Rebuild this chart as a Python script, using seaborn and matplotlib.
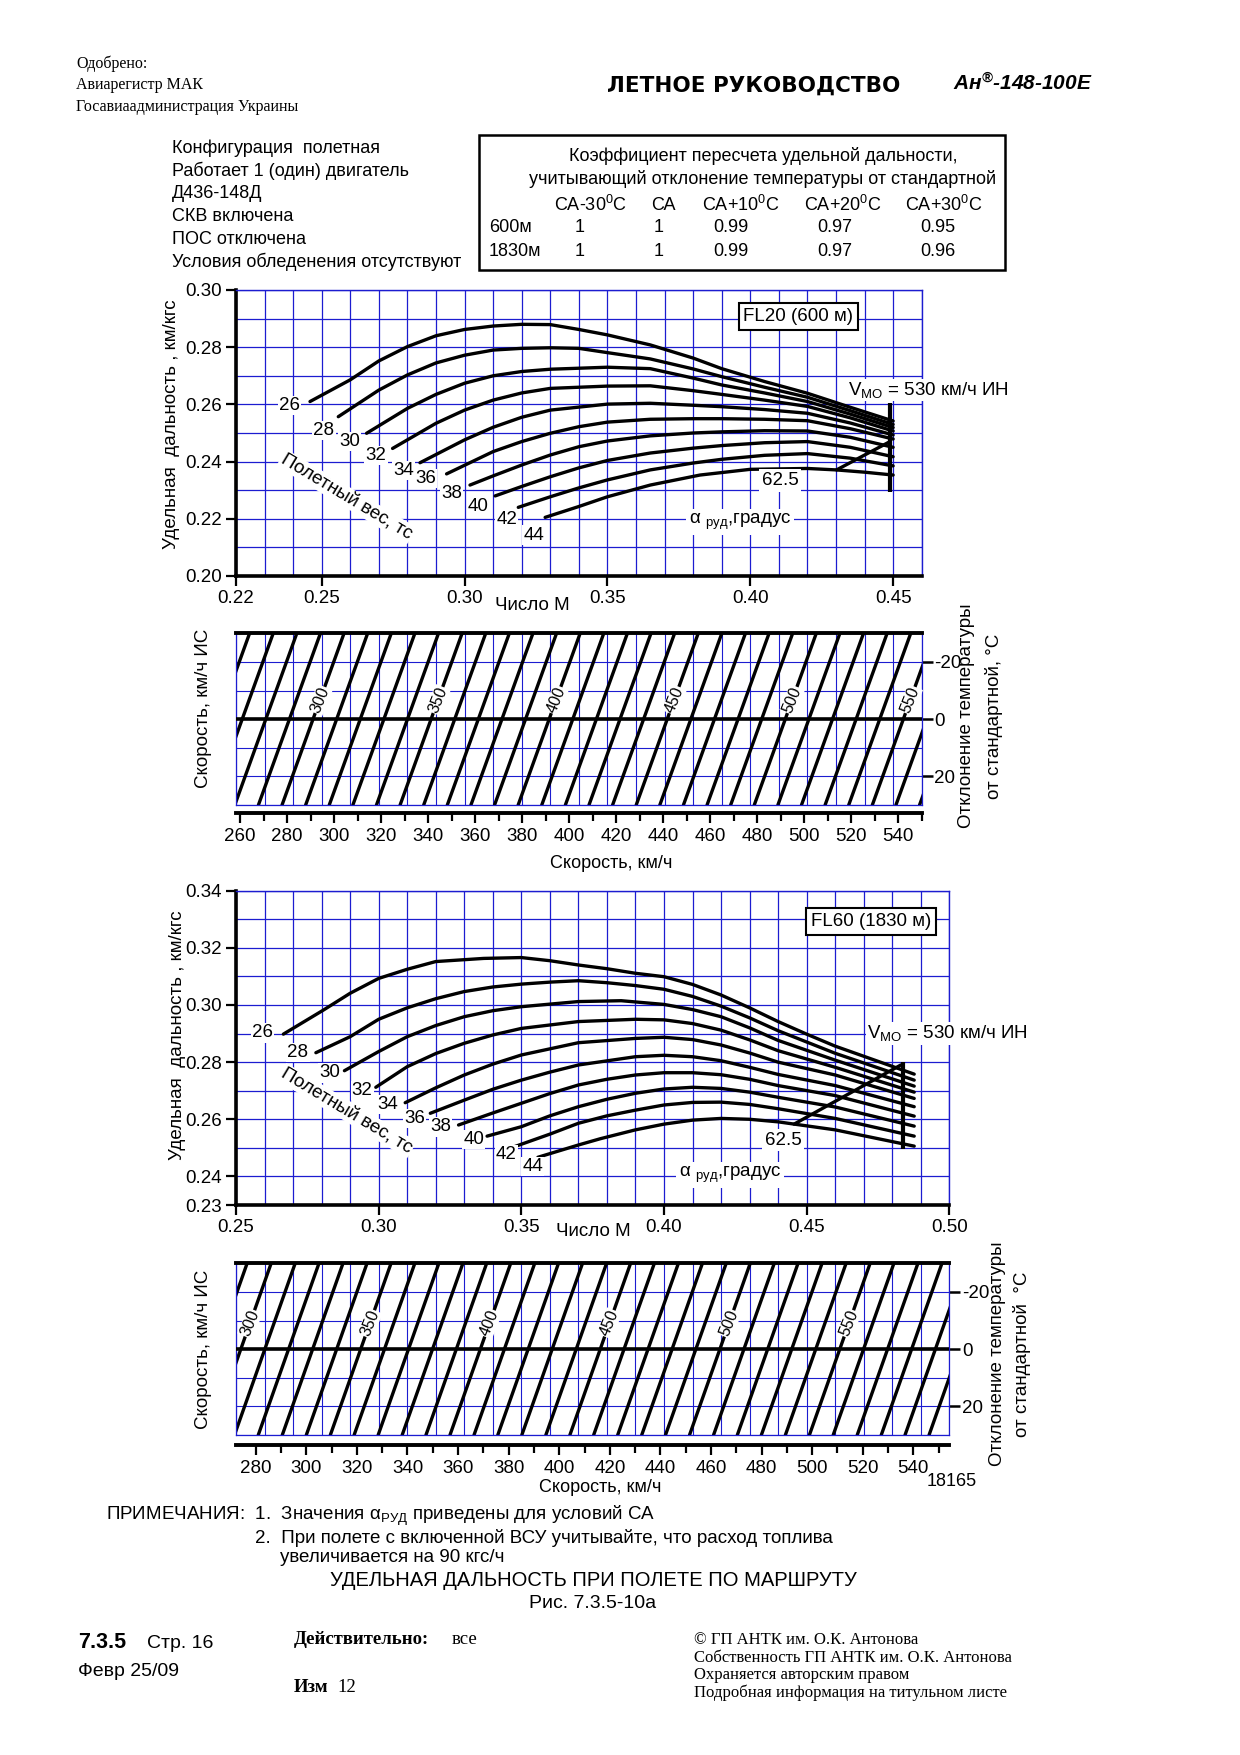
import numpy as np
import pandas as pd
import matplotlib
matplotlib.use("Agg")
import matplotlib.pyplot as plt
from matplotlib.patches import Rectangle
import seaborn as sns

# ---------------- DATA ----------------
WEIGHTS = [26, 28, 30, 32, 34, 36, 38, 40, 42, 44]

# FL20 (600 m): Mach number / specific range (km/kgf)
FL20_M26 = [0.2459, 0.26, 0.27, 0.28, 0.29, 0.30, 0.31, 0.32, 0.33, 0.34, 0.35, 0.365, 0.38, 0.39, 0.405, 0.42, 0.435, 0.45]
FL20_R26 = [0.2610, 0.2686, 0.2752, 0.2802, 0.2840, 0.2862, 0.2874, 0.2880, 0.2879, 0.2862, 0.2843, 0.2808, 0.2762, 0.2725, 0.2680, 0.2639, 0.2590, 0.2542]
FL20_M28 = [0.2558, 0.27, 0.28, 0.29, 0.30, 0.31, 0.32, 0.33, 0.34, 0.35, 0.365, 0.38, 0.39, 0.405, 0.42, 0.435, 0.45]
FL20_R28 = [0.2557, 0.2650, 0.2703, 0.2745, 0.2772, 0.2790, 0.2796, 0.2798, 0.2796, 0.2781, 0.2759, 0.2724, 0.2697, 0.2660, 0.2625, 0.2578, 0.2530]
FL20_M30 = [0.2657, 0.28, 0.29, 0.30, 0.31, 0.32, 0.33, 0.35, 0.365, 0.38, 0.39, 0.405, 0.42, 0.435, 0.45]
FL20_R30 = [0.2499, 0.2586, 0.2635, 0.2674, 0.2700, 0.2715, 0.2723, 0.2730, 0.2725, 0.2692, 0.2668, 0.2640, 0.2610, 0.2566, 0.2519]
FL20_M32 = [0.2748, 0.29, 0.30, 0.31, 0.32, 0.33, 0.35, 0.365, 0.38, 0.39, 0.405, 0.42, 0.435, 0.45]
FL20_R32 = [0.2446, 0.2534, 0.2580, 0.2615, 0.2640, 0.2656, 0.2664, 0.2665, 0.2648, 0.2635, 0.2615, 0.2593, 0.2553, 0.2507]
FL20_M34 = [0.2844, 0.30, 0.31, 0.32, 0.33, 0.35, 0.365, 0.38, 0.39, 0.405, 0.42, 0.435, 0.45]
FL20_R34 = [0.2396, 0.2476, 0.2520, 0.2555, 0.2580, 0.2601, 0.2604, 0.2597, 0.2592, 0.2582, 0.2569, 0.2535, 0.2493]
FL20_M36 = [0.2937, 0.31, 0.32, 0.33, 0.34, 0.35, 0.365, 0.38, 0.39, 0.405, 0.42, 0.435, 0.45]
FL20_R36 = [0.2357, 0.2435, 0.2470, 0.2499, 0.2522, 0.2538, 0.2548, 0.2550, 0.2550, 0.2548, 0.2543, 0.2515, 0.2479]
FL20_M38 = [0.3019, 0.31, 0.32, 0.33, 0.34, 0.35, 0.365, 0.38, 0.39, 0.405, 0.42, 0.435, 0.45]
FL20_R38 = [0.2318, 0.2350, 0.2388, 0.2423, 0.2452, 0.2472, 0.2490, 0.2500, 0.2504, 0.2508, 0.2507, 0.2485, 0.2450]
FL20_M40 = [0.3107, 0.32, 0.33, 0.34, 0.35, 0.365, 0.38, 0.39, 0.405, 0.42, 0.435, 0.45]
FL20_R40 = [0.2280, 0.2313, 0.2347, 0.2378, 0.2404, 0.2430, 0.2447, 0.2456, 0.2466, 0.2470, 0.2450, 0.2417]
FL20_M42 = [0.3188, 0.33, 0.34, 0.35, 0.365, 0.38, 0.39, 0.405, 0.42, 0.435, 0.45]
FL20_R42 = [0.2240, 0.2277, 0.2308, 0.2336, 0.2371, 0.2395, 0.2408, 0.2422, 0.2428, 0.2412, 0.2385]
FL20_M44 = [0.3282, 0.34, 0.35, 0.365, 0.3824, 0.40, 0.42, 0.43, 0.44, 0.45]
FL20_R44 = [0.2205, 0.2243, 0.2277, 0.2318, 0.2353, 0.2373, 0.2376, 0.2371, 0.2363, 0.2353]
FL20_LABEL_M = [0.2387, 0.2508, 0.2597, 0.2690, 0.2788, 0.2863, 0.2955, 0.3048, 0.3147, 0.3243]
FL20_LABEL_R = [0.2595, 0.2510, 0.2470, 0.2421, 0.2368, 0.2342, 0.2287, 0.2242, 0.2196, 0.2143]
FL20_VMO_M = [0.4488, 0.4488]
FL20_VMO_R = [0.2295, 0.2604]
FL20_A625_M = [0.4302, 0.4489]
FL20_A625_R = [0.2371, 0.2470]

# FL60 (1830 m)
FL60_M26 = [0.2666, 0.2806, 0.29, 0.30, 0.31, 0.32, 0.3368, 0.35, 0.36, 0.37, 0.38, 0.39, 0.40, 0.41, 0.42, 0.43, 0.44, 0.45, 0.46, 0.4877]
FL60_R26 = [0.2898, 0.2982, 0.3041, 0.3093, 0.3125, 0.3152, 0.3163, 0.3166, 0.3155, 0.3140, 0.3127, 0.3111, 0.3099, 0.3072, 0.3035, 0.2990, 0.2942, 0.2898, 0.2856, 0.2758]
FL60_M28 = [0.2780, 0.29, 0.30, 0.31, 0.32, 0.33, 0.34, 0.35, 0.36, 0.37, 0.38, 0.39, 0.40, 0.41, 0.42, 0.43, 0.44, 0.46, 0.4877]
FL60_R28 = [0.2833, 0.2889, 0.2950, 0.2990, 0.3022, 0.3047, 0.3063, 0.3073, 0.3080, 0.3085, 0.3078, 0.3068, 0.3055, 0.3030, 0.2996, 0.2955, 0.2910, 0.2831, 0.2737]
FL60_M30 = [0.2880, 0.30, 0.31, 0.32, 0.33, 0.34, 0.35, 0.37, 0.385, 0.40, 0.41, 0.42, 0.43, 0.44, 0.46, 0.4877]
FL60_R30 = [0.2770, 0.2837, 0.2889, 0.2928, 0.2959, 0.2980, 0.2994, 0.3012, 0.3015, 0.3002, 0.2984, 0.2959, 0.2920, 0.2876, 0.2807, 0.2716]
FL60_M32 = [0.2990, 0.31, 0.32, 0.33, 0.34, 0.35, 0.37, 0.39, 0.40, 0.41, 0.42, 0.43, 0.44, 0.46, 0.4877]
FL60_R32 = [0.2712, 0.2784, 0.2830, 0.2866, 0.2895, 0.2918, 0.2942, 0.2950, 0.2948, 0.2935, 0.2912, 0.2878, 0.2840, 0.2782, 0.2695]
FL60_M34 = [0.3093, 0.32, 0.33, 0.34, 0.35, 0.37, 0.39, 0.40, 0.41, 0.42, 0.43, 0.44, 0.46, 0.4877]
FL60_R34 = [0.2658, 0.2710, 0.2755, 0.2793, 0.2825, 0.2868, 0.2883, 0.2887, 0.2879, 0.2860, 0.2832, 0.2800, 0.2755, 0.2673]
FL60_M36 = [0.3181, 0.33, 0.34, 0.35, 0.36, 0.37, 0.39, 0.40, 0.41, 0.42, 0.43, 0.44, 0.46, 0.4877]
FL60_R36 = [0.2621, 0.2667, 0.2705, 0.2737, 0.2765, 0.2790, 0.2819, 0.2824, 0.2819, 0.2805, 0.2782, 0.2757, 0.2718, 0.2644]
FL60_M38 = [0.3280, 0.34, 0.35, 0.36, 0.37, 0.38, 0.39, 0.40, 0.41, 0.42, 0.43, 0.44, 0.46, 0.4877]
FL60_R38 = [0.2580, 0.2622, 0.2656, 0.2690, 0.2720, 0.2740, 0.2755, 0.2763, 0.2763, 0.2756, 0.2740, 0.2718, 0.2683, 0.2611]
FL60_M40 = [0.3380, 0.35, 0.36, 0.37, 0.38, 0.39, 0.40, 0.41, 0.42, 0.43, 0.44, 0.46, 0.4877]
FL60_R40 = [0.2541, 0.2574, 0.2612, 0.2644, 0.2670, 0.2691, 0.2706, 0.2712, 0.2708, 0.2695, 0.2677, 0.2643, 0.2576]
FL60_M42 = [0.3470, 0.36, 0.37, 0.38, 0.39, 0.40, 0.41, 0.42, 0.43, 0.44, 0.46, 0.4877]
FL60_R42 = [0.2502, 0.2548, 0.2586, 0.2612, 0.2632, 0.2650, 0.2659, 0.2660, 0.2652, 0.2637, 0.2603, 0.2541]
FL60_M44 = [0.3558, 0.37, 0.3777, 0.39, 0.40, 0.41, 0.42, 0.43, 0.44, 0.46, 0.4877]
FL60_R44 = [0.2467, 0.2510, 0.2532, 0.2563, 0.2583, 0.2597, 0.2603, 0.2600, 0.2591, 0.2563, 0.2506]
FL60_LABEL_M = [0.2594, 0.2717, 0.2828, 0.2942, 0.3031, 0.3127, 0.3218, 0.3333, 0.3447, 0.3540]
FL60_LABEL_R = [0.2902, 0.2834, 0.2762, 0.2701, 0.2653, 0.2604, 0.2573, 0.2528, 0.2477, 0.2434]
FL60_VMO_M = [0.4836, 0.4836]
FL60_VMO_R = [0.2495, 0.2801]
FL60_A625_M = [0.4456, 0.4830]
FL60_A625_R = [0.2583, 0.2790]

# Nomograms: IAS lines, speed-scale crossing at dT = 0
NOMO1_IAS = [260, 270, 280, 290, 300, 310, 320, 330, 340, 350, 360, 370, 380, 390, 400, 410,
             420, 430, 440, 450, 460, 470, 480, 490, 500, 510, 520, 530, 540, 550, 560, 570]
NOMO1_S0 = [250.9, 260.8, 270.7, 280.6, 290.5, 300.4, 310.3, 320.2, 330.1, 340.0, 349.9, 359.8,
            369.7, 379.6, 389.5, 399.4, 409.3, 419.2, 429.1, 439.0, 448.9, 458.8, 468.7, 478.6,
            488.5, 498.4, 508.3, 518.2, 528.1, 538.0, 547.9, 557.8]
NOMO1_SHIFT30 = 13.0
NOMO1_LABELS = [300, 350, 400, 450, 500, 550]
NOMO1_LABEL_DT = -6.7
NOMO1_TICKS = [260, 280, 300, 320, 340, 360, 380, 400, 420, 440, 460, 480, 500, 520, 540]

NOMO2_IAS = [290, 300, 310, 320, 330, 340, 350, 360, 370, 380, 390, 400, 410, 420, 430, 440,
             450, 460, 470, 480, 490, 500, 510, 520, 530, 540, 550, 560, 570, 580, 590, 600]
NOMO2_S0 = [264.6, 274.1, 283.6, 293.0, 302.5, 312.0, 321.5, 330.9, 340.4, 349.9, 359.3, 368.8,
            378.3, 387.7, 397.2, 406.7, 416.2, 425.6, 435.1, 444.6, 454.0, 463.5, 473.0, 482.4,
            491.9, 501.4, 510.9, 520.3, 529.8, 539.3, 548.7, 558.2]
NOMO2_SHIFT30 = 12.0
NOMO2_LABELS = [300, 350, 400, 450, 500, 550]
NOMO2_LABEL_DT = -9.0
NOMO2_TICKS = [280, 300, 320, 340, 360, 380, 400, 420, 440, 460, 480, 500, 520, 540]

TABLE_HEAD = ["СА-30$^0$С", "СА", "СА+10$^0$С", "СА+20$^0$С", "СА+30$^0$С"]
TABLE_600 = ["1", "1", "0.99", "0.97", "0.95"]
TABLE_1830 = ["1", "1", "0.99", "0.97", "0.96"]

# ---------------- STYLE ----------------
sns.set_style("white")
plt.rcParams['font.family'] = ['Liberation Sans', 'DejaVu Sans']
plt.rcParams['mathtext.fontset'] = 'custom'
plt.rcParams['mathtext.rm'] = 'Liberation Sans'
plt.rcParams['mathtext.it'] = 'Liberation Sans:italic'
plt.rcParams['mathtext.bf'] = 'Liberation Sans:bold'
for k in ['text.color', 'axes.labelcolor', 'xtick.color', 'ytick.color', 'axes.edgecolor']:
    plt.rcParams[k] = 'black'

BLUE = '#1c1cd0'
SERIF = ['Liberation Serif', 'DejaVu Serif']
W, H = 1240.0, 1755.0

fig = plt.figure(figsize=(12.4, 17.55), dpi=100)


def rect_px(x0, y0, x1, y1):
    return [x0 / W, 1 - y1 / H, (x1 - x0) / W, (y1 - y0) / H]


def ftext(x, y, s, **kw):
    kw.setdefault('va', 'center')
    return fig.text(x / W, 1 - y / H, s, **kw)


def mach_chart(rect, xlim, ylim, xticks, yticks, xgrid, ygrid, curves, lab_m, lab_r,
               vmo_m, vmo_r, a_m, a_r):
    ax = fig.add_axes(rect)
    df = pd.concat([pd.DataFrame({'M': m, 'R': r, 'W': w}) for w, m, r in curves],
                   ignore_index=True)
    sns.lineplot(data=df, x='M', y='R', units='W', estimator=None, sort=False,
                 color='black', linewidth=2.4, ax=ax, legend=False)
    ax.plot(vmo_m, vmo_r, color='black', lw=3.0, solid_capstyle='butt')
    ax.plot(a_m, a_r, color='black', lw=2.4)
    ax.set_xlim(*xlim)
    ax.set_ylim(*ylim)
    ax.set_xlabel('')
    ax.set_ylabel('')
    ax.set_xticks(xticks)
    ax.set_xticklabels([f"{t:.2f}" for t in xticks])
    ax.set_yticks(yticks)
    ax.set_yticklabels([f"{t:.2f}" for t in yticks])
    ax.set_xticks(xgrid, minor=True)
    ax.set_yticks(ygrid, minor=True)
    ax.set_axisbelow(True)
    ax.grid(which='both', color=BLUE, lw=0.9)
    ax.tick_params(which='major', bottom=True, left=True, direction='out', length=7,
                   width=1.6, labelsize=13.5, pad=3)
    ax.tick_params(which='minor', bottom=False, left=False, length=0)
    for sp in ['left', 'bottom']:
        ax.spines[sp].set_color('black')
        ax.spines[sp].set_linewidth(2.6)
    for sp in ['top', 'right']:
        ax.spines[sp].set_color(BLUE)
        ax.spines[sp].set_linewidth(1.0)
    for w, m, r in zip(WEIGHTS, lab_m, lab_r):
        ax.text(m, r, str(w), ha='center', va='center', fontsize=13.5, zorder=5,
                bbox=dict(fc='white', ec='none', pad=0.8))
    return ax


def nomogram(rect, slim, mlim, mgrid, ias, s0, shift, labels, lab_dt):
    ax = fig.add_axes(rect)
    axg = ax.twiny()
    axg.set_xlim(*mlim)
    axg.set_xticks(mgrid)
    axg.grid(axis='x', color=BLUE, lw=0.8)
    axg.tick_params(top=False, labeltop=False, length=0)
    for sp in axg.spines.values():
        sp.set_visible(False)
    ax.set_zorder(axg.get_zorder() + 1)
    ax.patch.set_visible(False)

    rows = []
    for i, s in zip(ias, s0):
        rows.append({'IAS': i, 'S': s + shift, 'T': -30.0})
        rows.append({'IAS': i, 'S': s - shift, 'T': 30.0})
    sns.lineplot(data=pd.DataFrame(rows), x='S', y='T', units='IAS', estimator=None,
                 sort=False, color='black', linewidth=2.4, ax=ax, legend=False)
    ax.axhline(0, color='black', lw=2.6, zorder=3)
    ax.set_xlim(*slim)
    ax.set_ylim(30, -30)
    ax.set_xlabel('')
    ax.set_ylabel('')
    ax.set_xticks([])
    ax.set_yticks([-20, 0, 20])
    ax.set_yticklabels(['-20', '0', '20'])
    ax.set_yticks([-30, -10, 10, 30], minor=True)
    ax.set_axisbelow(True)
    ax.grid(axis='y', which='both', color=BLUE, lw=0.8)
    ax.yaxis.tick_right()
    ax.tick_params(axis='y', which='major', right=True, left=False, direction='out',
                   length=8, width=1.8, labelsize=13.5, pad=1)
    ax.tick_params(axis='y', which='minor', right=False, left=False, length=0)
    ax.spines['top'].set_color('black')
    ax.spines['top'].set_linewidth(2.8)
    for sp in ['left', 'right', 'bottom']:
        ax.spines[sp].set_color(BLUE)
        ax.spines[sp].set_linewidth(0.9)
    for lab in labels:
        s = s0[ias.index(lab)] + shift * (-lab_dt) / 30.0
        ax.text(s, lab_dt, str(lab), rotation=68, rotation_mode='anchor', ha='center',
                va='center', fontsize=11.5, zorder=6,
                bbox=dict(fc='white', ec='none', pad=0.5))
    return ax


def speed_axis(x0, x1, y, slim, ticks):
    axs = fig.add_axes([x0 / W, 1 - y / H, (x1 - x0) / W, 0.0001])
    axs.patch.set_visible(False)
    for sp in ['top', 'left', 'right']:
        axs.spines[sp].set_visible(False)
    axs.spines['bottom'].set_linewidth(2.8)
    axs.spines['bottom'].set_color('black')
    axs.set_xlim(*slim)
    axs.set_yticks([])
    axs.set_xticks(ticks)
    axs.set_xticklabels([str(t) for t in ticks])
    axs.set_xticks([t + 10 for t in ticks], minor=True)
    axs.tick_params(axis='x', which='major', bottom=True, direction='out', length=7,
                    width=1.6, labelsize=13.5, pad=4)
    axs.tick_params(axis='x', which='minor', bottom=True, direction='out', length=6,
                    width=1.6)
    return axs


# ---------------- HEADER ----------------
ftext(76, 64, "Одобрено:", fontsize=11.5, family=SERIF)
ftext(76, 85, "Авиарегистр МАК", fontsize=11.5, family=SERIF)
ftext(76, 107, "Госавиаадминистрация Украины", fontsize=11.5, family=SERIF)
ftext(607, 86, "ЛЕТНОЕ РУКОВОДСТВО", fontsize=15.5, fontweight='bold',
      family=['DejaVu Sans'])
ftext(953, 84, "Ан$^{\\mathregular{®}}$-148-100Е", fontsize=15, fontweight='bold', style='italic')

for i, s in enumerate(["Конфигурация  полетная", "Работает 1 (один) двигатель", "Д436-148Д",
                       "СКВ включена", "ПОС отключена", "Условия обледенения отсутствуют"]):
    ftext(172, 148 + i * 22.8, s, fontsize=13)

fig.patches.append(Rectangle((479 / W, 1 - 270 / H), (1005 - 479) / W, (270 - 135) / H,
                             transform=fig.transFigure, fill=False, ec='black', lw=1.8))
ftext(763, 156, "Коэффициент пересчета удельной дальности,", fontsize=13, ha='center')
ftext(763, 179, "учитывающий отклонение температуры от стандартной", fontsize=13, ha='center')
TAB_HX = [590, 663, 741, 843, 944]
TAB_VX = [580, 659, 731, 835, 938]
for x, s in zip(TAB_HX, TABLE_HEAD):
    ftext(x, 205, s, fontsize=13, ha='center')
ftext(489, 228, "600м", fontsize=13)
ftext(489, 251, "1830м", fontsize=13)
for x, a, b in zip(TAB_VX, TABLE_600, TABLE_1830):
    ftext(x, 228, a, fontsize=13, ha='center')
    ftext(x, 251, b, fontsize=13, ha='center')

# ---------------- CHART 1 (FL20) ----------------
curves20 = list(zip(WEIGHTS,
                    [FL20_M26, FL20_M28, FL20_M30, FL20_M32, FL20_M34, FL20_M36, FL20_M38, FL20_M40, FL20_M42, FL20_M44],
                    [FL20_R26, FL20_R28, FL20_R30, FL20_R32, FL20_R34, FL20_R36, FL20_R38, FL20_R40, FL20_R42, FL20_R44]))
ax1 = mach_chart(rect_px(236, 290, 921.7, 576), (0.22, 0.46), (0.20, 0.30),
                 [0.22, 0.25, 0.30, 0.35, 0.40, 0.45], [0.20, 0.22, 0.24, 0.26, 0.28, 0.30],
                 np.arange(0.22, 0.4601, 0.01), np.arange(0.20, 0.3001, 0.01),
                 curves20, FL20_LABEL_M, FL20_LABEL_R, FL20_VMO_M, FL20_VMO_R,
                 FL20_A625_M, FL20_A625_R)
ax1.text(0.2587, 0.2277, "Полетный вес, тс", rotation=-31, ha='center', va='center',
         rotation_mode='anchor', fontsize=13.5, zorder=5, bbox=dict(fc='white', ec='none', pad=1))
ax1.text(0.4168, 0.2907, "FL20 (600 м)", ha='center', va='center', fontsize=13.5, zorder=6,
         bbox=dict(boxstyle='square,pad=0.25', fc='white', ec='black', lw=1.5))
ax1.text(0.4343, 0.2650, "V$_{\\mathregular{МО}}$ = 530 км/ч ИН", ha='left', va='center',
         fontsize=13.5, zorder=6, bbox=dict(fc='white', ec='none', pad=1))
ax1.text(0.4104, 0.2333, "62.5", ha='center', va='center', fontsize=13.5, zorder=6,
         bbox=dict(fc='white', ec='none', pad=2))
ax1.text(0.3964, 0.2190, "α $_{\\mathregular{руд}}$,градус", ha='center', va='center',
         fontsize=13.5, zorder=6, bbox=dict(fc='white', ec='none', pad=2))
ftext(172, 424, "Удельная  дальность , км/кгс", rotation=90, ha='center', fontsize=13.5)
ftext(532, 606, "Число М", ha='center', fontsize=13.5)

# ---------------- NOMOGRAM 1 ----------------
nomogram(rect_px(236, 633.3, 921.7, 805), (258.2, 545.7), (0.22, 0.46),
         np.arange(0.22, 0.4601, 0.01), NOMO1_IAS, NOMO1_S0, NOMO1_SHIFT30,
         NOMO1_LABELS, NOMO1_LABEL_DT)
speed_axis(236, 921.7, 812.7, (258.2, 545.7), NOMO1_TICKS)
ftext(204, 708, "Скорость, км/ч ИС", rotation=90, ha='center', fontsize=13.5)
ftext(967, 716, "Отклонение температуры", rotation=90, ha='center', fontsize=13.5)
ftext(994, 716, "от стандартной, °С", rotation=90, ha='center', fontsize=13.5)
ftext(611, 864, "Скорость, км/ч", ha='center', fontsize=13)

# ---------------- CHART 2 (FL60) ----------------
curves60 = list(zip(WEIGHTS,
                    [FL60_M26, FL60_M28, FL60_M30, FL60_M32, FL60_M34, FL60_M36, FL60_M38, FL60_M40, FL60_M42, FL60_M44],
                    [FL60_R26, FL60_R28, FL60_R30, FL60_R32, FL60_R34, FL60_R36, FL60_R38, FL60_R40, FL60_R42, FL60_R44]))
ax2 = mach_chart(rect_px(236, 890.7, 949.3, 1205), (0.25, 0.50), (0.23, 0.34),
                 [0.25, 0.30, 0.35, 0.40, 0.45, 0.50], [0.23, 0.24, 0.26, 0.28, 0.30, 0.32, 0.34],
                 np.arange(0.25, 0.5001, 0.01), np.arange(0.23, 0.3401, 0.01),
                 curves60, FL60_LABEL_M, FL60_LABEL_R, FL60_VMO_M, FL60_VMO_R,
                 FL60_A625_M, FL60_A625_R)
ax2.text(0.2888, 0.2630, "Полетный вес, тс", rotation=-31, ha='center', va='center',
         rotation_mode='anchor', fontsize=13.5, zorder=5, bbox=dict(fc='white', ec='none', pad=1))
ax2.text(0.4726, 0.3292, "FL60 (1830 м)", ha='center', va='center', fontsize=13.5, zorder=6,
         bbox=dict(boxstyle='square,pad=0.25', fc='white', ec='black', lw=1.5))
ax2.text(0.4713, 0.2901, "V$_{\\mathregular{МО}}$ = 530 км/ч ИН", ha='left', va='center',
         fontsize=13.5, zorder=6, bbox=dict(fc='white', ec='none', pad=1))
ax2.text(0.4418, 0.2527, "62.5", ha='center', va='center', fontsize=13.5, zorder=6,
         bbox=dict(fc='white', ec='none', pad=2))
ax2.text(0.4233, 0.2405, "α $_{\\mathregular{руд}}$,градус", ha='center', va='center',
         fontsize=13.5, zorder=6, bbox=dict(fc='white', ec='none', pad=2))
ftext(178, 1035, "Удельная  дальность , км/кгс", rotation=90, ha='center', fontsize=13.5)
ftext(593, 1231, "Число М", ha='center', fontsize=13.5)

# ---------------- NOMOGRAM 2 ----------------
nomogram(rect_px(236, 1263.3, 949.3, 1435), (272.2, 554.2), (0.25, 0.50),
         np.arange(0.25, 0.5001, 0.01), NOMO2_IAS, NOMO2_S0, NOMO2_SHIFT30,
         NOMO2_LABELS, NOMO2_LABEL_DT)
speed_axis(236, 949.3, 1445, (272.2, 554.2), NOMO2_TICKS)
ftext(204, 1349, "Скорость, км/ч ИС", rotation=90, ha='center', fontsize=13.5)
ftext(997, 1354, "Отклонение температуры", rotation=90, ha='center', fontsize=13.5)
ftext(1022, 1354, "от стандартной  °С", rotation=90, ha='center', fontsize=13.5)
ftext(600, 1487, "Скорость, км/ч", ha='center', fontsize=13)
ftext(952, 1482, "18165", ha='center', fontsize=13)

# ---------------- NOTES & FOOTER ----------------
ftext(106, 1516, "ПРИМЕЧАНИЯ:  1.  Значения α$_{\\mathregular{РУД}}$ приведены для условий СА", fontsize=13.5)
ftext(255, 1538, "2.  При полете с включенной ВСУ учитывайте, что расход топлива", fontsize=13.5)
ftext(280, 1557, "увеличивается на 90 кгс/ч", fontsize=13.5)
ftext(593, 1581, "УДЕЛЬНАЯ ДАЛЬНОСТЬ ПРИ ПОЛЕТЕ ПО МАРШРУТУ", ha='center', fontsize=14.5)
ftext(593, 1604, "Рис. 7.3.5-10а", ha='center', fontsize=14)
ftext(78, 1642, "7.3.5", fontsize=15.5, fontweight='bold')
ftext(147, 1643, "Стр. 16", fontsize=14)
ftext(78, 1671, "Февр 25/09", fontsize=14)
ftext(294, 1640, "Действительно:", fontsize=13.5, fontweight='bold', family=SERIF)
ftext(452, 1640, "все", fontsize=13.5, family=SERIF)
ftext(294, 1688, "Изм", fontsize=13.5, fontweight='bold', family=SERIF)
ftext(337, 1688, "12", fontsize=13.5, family=SERIF)
for i, s in enumerate(["© ГП АНТК им. О.К. Антонова", "Собственность ГП АНТК им. О.К. Антонова",
                       "Охраняется авторским правом", "Подробная информация на титульном листе"]):
    ftext(694, 1640 + i * 17.5, s, fontsize=12, family=SERIF)

fig.savefig("out.png", dpi=100)
